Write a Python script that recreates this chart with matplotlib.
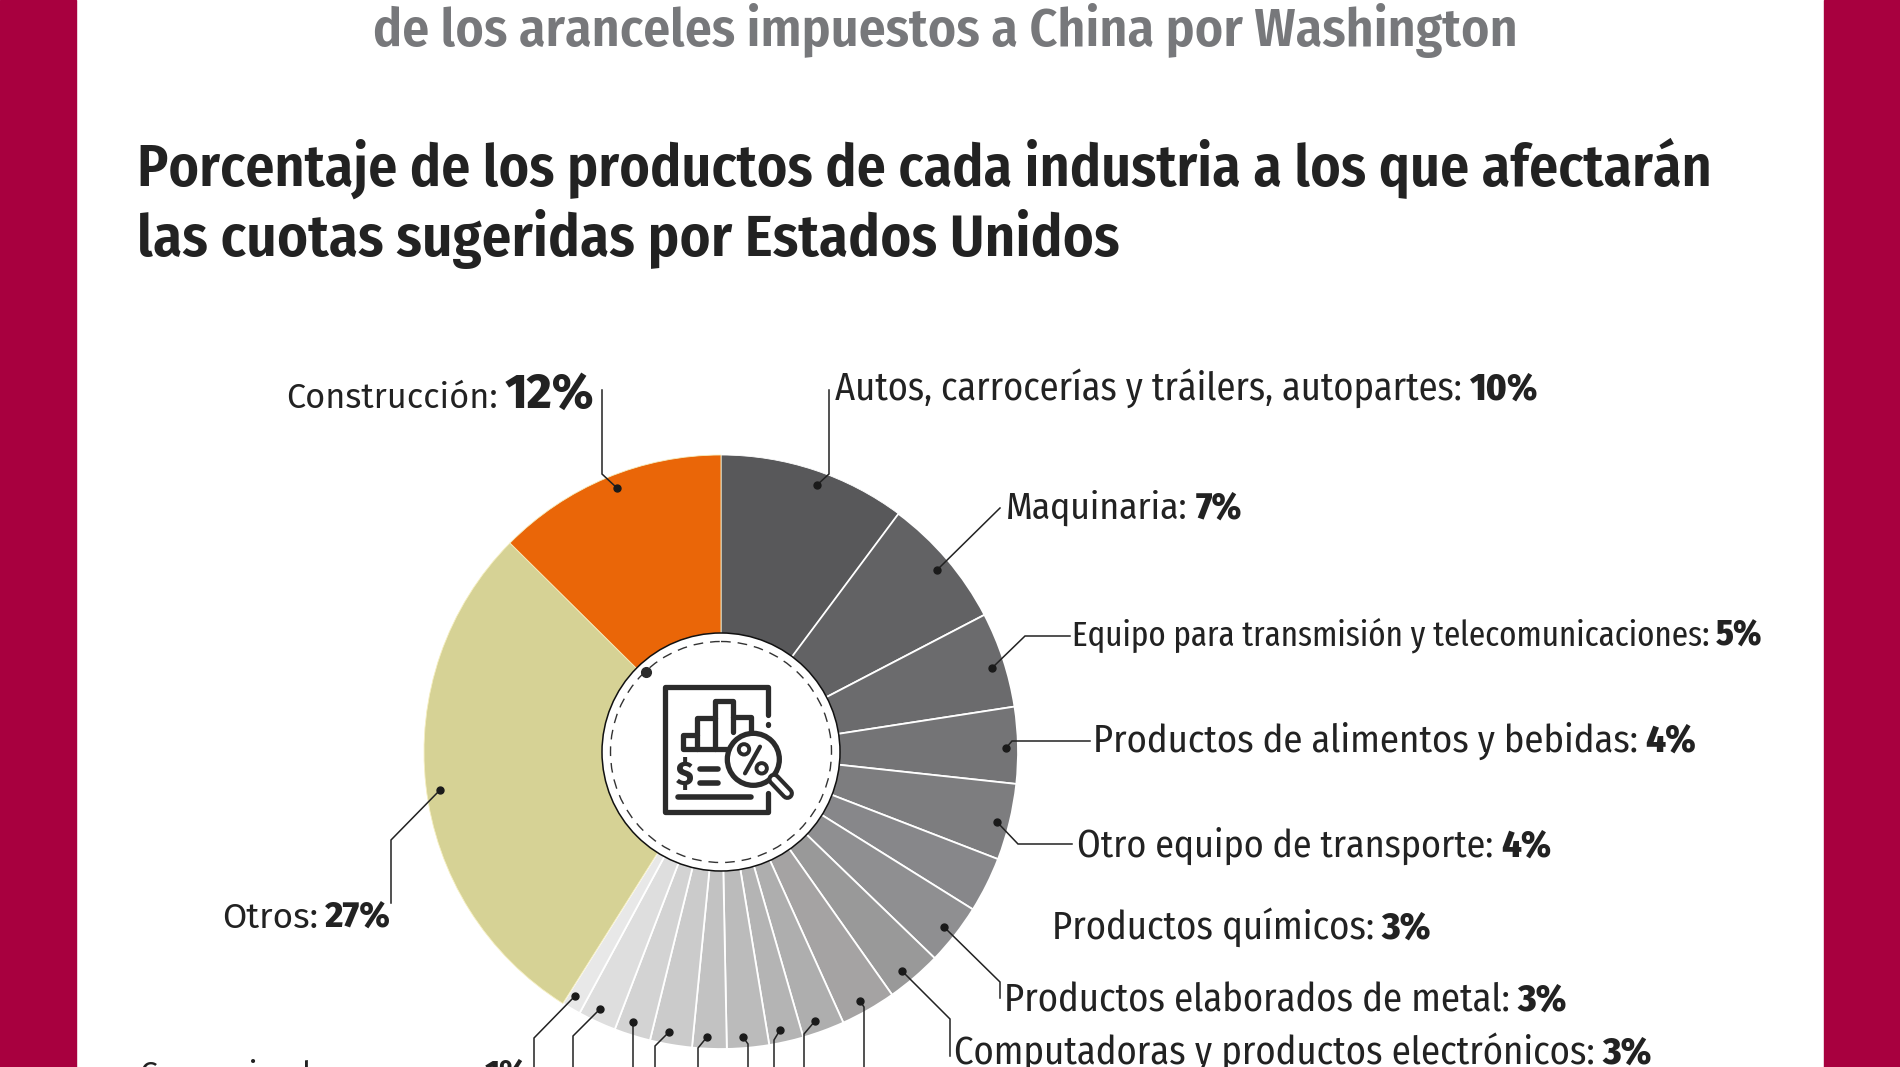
import matplotlib
matplotlib.use("Agg")
import matplotlib.pyplot as plt
from matplotlib.patches import Circle, Rectangle

FONT = ["Fira Sans Condensed", "Roboto", "DejaVu Sans"]
WIDE_FONT = ["Fira Sans", "Open Sans", "DejaVu Sans"]
TIGHT_FONT = ["Fira Sans Extra Condensed", "Roboto", "DejaVu Sans"]

# slice sizes, clockwise from the top (the small ones are cut off, names unknown)
values = [9.8, 6.9, 5.0, 4.0, 4.0, 2.9, 3.2, 2.9, 2.9, 2.2, 1.8, 2.2, 1.8, 2.2, 1.9, 2.0, 1.0, 27.4, 12.1]
colors = ["#58585a", "#626264", "#6b6b6d", "#747476", "#7d7d7f", "#87878a", "#8f8f91",
          "#999999", "#a5a3a3", "#aeaeae", "#b4b4b4", "#bbbbbb", "#c2c2c2", "#cbcbcb",
          "#d3d3d3", "#dedede", "#e8e8e8", "#d6d295", "#ea6608"]

subtitle = "de los aranceles impuestos a China por Washington"
title_1 = "Porcentaje de los productos de cada industria a los que afectarán"
title_2 = "las cuotas sugeridas por Estados Unidos"

names = ["Construcción:", "Autos, carrocerías y tráilers, autopartes:", "Maquinaria:",
         "Equipo para transmisión y telecomunicaciones:", "Productos de alimentos y bebidas:",
         "Otro equipo de transporte:", "Productos químicos:", "Productos elaborados de metal:",
         "Computadoras y productos electrónicos:", "Otros:", "Comercio al por mayor:"]
pcts = ["12%", "10%", "7%", "5%", "4%", "4%", "3%", "3%", "3%", "27%", "1%"]
# left edge, right edge, baseline of each label
label_x0 = [286, 835, 1006, 1072, 1093, 1077, 1052, 1004, 954, 222, 140]
label_x1 = [594, 1538, 1242, 1762, 1696, 1551, 1431, 1567, 1652, 391, 527]
label_y = [408, 400, 519, 646, 752, 857, 939, 1011, 1064, 928, 1083]

# leader lines, dot first
leaders = [
    [(617, 488), (602, 474), (602, 390)],
    [(817, 485), (829, 474), (829, 390)],
    [(937, 570), (1000, 508)],
    [(992, 668), (1025, 636), (1070, 636)],
    [(1006, 748), (1012, 741), (1090, 741)],
    [(997, 822), (1018, 844), (1072, 844)],
    [(944, 927), (1000, 982), (1000, 998)],
    [(902, 971), (950, 1019), (950, 1056)],
    [(440, 790), (391, 840), (391, 903)],
    [(860, 1001), (864, 1007), (864, 1075)],
    [(815, 1021), (804, 1034), (804, 1075)],
    [(780, 1030), (774, 1040), (774, 1075)],
    [(743, 1037), (748, 1044), (748, 1075)],
    [(707, 1037), (698, 1048), (698, 1075)],
    [(669, 1032), (655, 1046), (655, 1075)],
    [(633, 1022), (633, 1075)],
    [(600, 1009), (573, 1036), (573, 1075)],
    [(575, 996), (534, 1038), (534, 1075)],
]

DARK = "#222222"
ICON = "#2b2b2b"

fig = plt.figure(figsize=(19, 10.67), dpi=100)
ax = fig.add_axes([0, 0, 1, 1])

wedges, _ = ax.pie(values, colors=colors, center=(721, 752), radius=297, startangle=-90,
                   counterclock=True, wedgeprops={"edgecolor": "white", "linewidth": 1.3})
wedges[-1].set(edgecolor="#f6efc0", linewidth=0.6)
wedges[-2].set(edgecolor="#f6efc0", linewidth=0.6)
wedges[0].set_linewidth(0.6)

ax.set_xlim(0, 1900)
ax.set_ylim(1067, 0)
ax.axis("off")

# red side bands
ax.add_patch(Rectangle((0, 0), 76, 1067, color="#a8003f", zorder=5))
ax.add_patch(Rectangle((1824, 0), 76, 1067, color="#a8003f", zorder=5))

# centre of the donut
ax.add_patch(Circle((721, 752), 119, facecolor="white", edgecolor="#111111", linewidth=1.1, zorder=3))
ax.add_patch(Circle((721, 752), 110.5, fill=False, edgecolor="#333333", linewidth=1,
                    linestyle=(0, (7, 5)), zorder=4))
ax.plot([646], [672], "o", color=ICON, markersize=7, zorder=5)


# icon was measured on a 3x crop that starts at (590, 630)
def ix(v):
    return 590 + v / 3


def iy(v):
    return 630 + v / 3


def icon_line(points, lw=3.8, color=ICON):
    ax.plot([ix(p[0]) for p in points], [iy(p[1]) for p in points], color=color, linewidth=lw,
            solid_capstyle="round", solid_joinstyle="round", zorder=6)


icon_line([(535, 255), (535, 170), (225, 170), (225, 547), (535, 547), (535, 490)])
icon_line([(533, 283), (533, 284)], lw=3.8)
icon_line([(410, 358), (278, 358), (278, 315), (322, 315), (322, 265), (375, 265), (375, 212),
           (430, 212), (430, 305)])
icon_line([(322, 315), (322, 358)])
icon_line([(375, 265), (375, 358)])
icon_line([(430, 262), (482, 262), (482, 310)])
ax.add_patch(Circle((ix(490), iy(388)), 26, facecolor="white", edgecolor=ICON, linewidth=3.8, zorder=6))
ax.add_patch(Circle((ix(462), iy(358)), 5.2, fill=False, edgecolor=ICON, linewidth=2.8, zorder=7))
ax.add_patch(Circle((ix(515), iy(415)), 5.2, fill=False, edgecolor=ICON, linewidth=2.8, zorder=7))
icon_line([(510, 350), (465, 430)], lw=3)
icon_line([(552, 448), (592, 490)], lw=9.5)
icon_line([(552, 448), (592, 490)], lw=3.6, color="white")
icon_line([(330, 417), (385, 417)], lw=4)
icon_line([(330, 460), (385, 460)], lw=4)
icon_line([(408, 460), (409, 460)], lw=4)
icon_line([(265, 502), (483, 502)], lw=4)
ax.text(ix(285), iy(437), "$", fontsize=23, fontweight=800, family=WIDE_FONT, color=ICON,
        ha="center", va="center", zorder=6)

# leader lines and their dots
for pts in leaders:
    ax.plot([p[0] for p in pts], [p[1] for p in pts], color="#222222", linewidth=1.1,
            solid_joinstyle="miter", zorder=4)
    ax.plot([pts[0][0]], [pts[0][1]], "o", color="#1a1a1a", markersize=5, zorder=4)

renderer = fig.canvas.get_renderer()


def fit_text(x0, x1, y, text, size, **kw):
    t = ax.text(x0, y, text, fontsize=size, va="baseline", ha="left", **kw)
    w = t.get_window_extent(renderer).width
    t.set_fontsize(size * (x1 - x0) / w)
    return t


# titles
fit_text(373, 1518, 46, subtitle, 32, family=FONT, fontweight=600, color="#77787b")
fit_text(137, 1716, 186, title_1, 36, family=FONT, fontweight=600, color=DARK)
fit_text(137, 1120, 256, title_2, 36, family=FONT, fontweight=600, color=DARK)

# labels: name in regular, share in heavy, stretched together to the measured width
for i, (name, pct) in enumerate(zip(names, pcts)):
    fam = FONT
    pct_fam = FONT
    if name in ("Construcción:", "Otros:", "Comercio al por mayor:"):
        fam = WIDE_FONT
        pct_fam = WIDE_FONT
    if name.startswith("Equipo"):
        fam = TIGHT_FONT
    pct_scale = 1.4 if name == "Construcción:" else 1.0
    a = ax.text(0, 0, name, fontsize=25, family=fam)
    b = ax.text(0, 0, pct, fontsize=25 * pct_scale, family=pct_fam, fontweight=800)
    gap = 7
    wa = a.get_window_extent(renderer).width
    wb = b.get_window_extent(renderer).width
    k = (label_x1[i] - label_x0[i] - gap) / (wa + wb)
    a.set_fontsize(25 * k)
    b.set_fontsize(25 * pct_scale * k)
    a.set(x=label_x0[i], y=label_y[i], color=DARK, va="baseline")
    b.set(x=label_x1[i], y=label_y[i], color=DARK, va="baseline", ha="right")

fig.savefig("out.png", dpi=100)
